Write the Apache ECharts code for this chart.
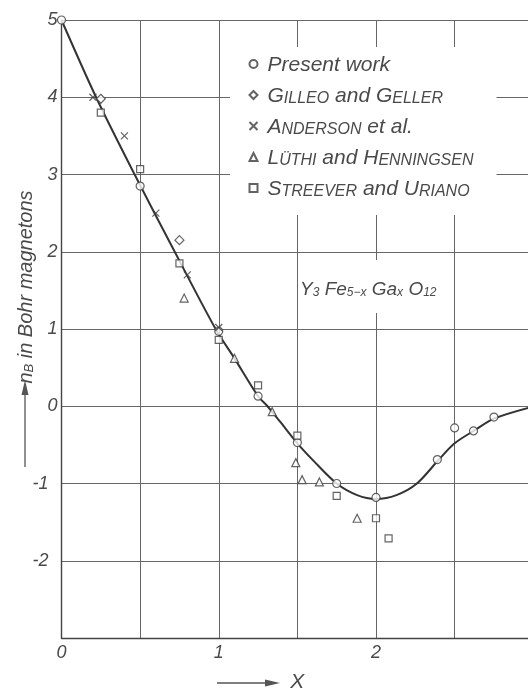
<!DOCTYPE html>
<html><head><meta charset="utf-8">
<script src="https://cdn.jsdelivr.net/npm/echarts@6/dist/echarts.min.js"></script>
<style>html,body{margin:0;padding:0;background:#fff}#c{width:528px;height:689px}</style>
</head><body><div id="c"></div>
<script>
// ---- data ----
const seriesNames = ['Present work', 'GILLEO and GELLER', 'ANDERSON et al.', 'LÜTHI and HENNINGSEN', 'STREEVER and URIANO'];

const presentX = [0, 0.5, 1.0, 1.25, 1.5, 1.75, 2.0, 2.39, 2.5, 2.62, 2.75];
const presentY = [5.0, 2.85, 0.97, 0.13, -0.47, -1.0, -1.18, -0.69, -0.28, -0.32, -0.14];

const gilleoX = [0.25, 0.75];
const gilleoY = [3.98, 2.15];

const andersonX = [0.2, 0.4, 0.6, 0.8, 1.0];
const andersonY = [4.0, 3.5, 2.5, 1.7, 1.02];

const luthiX = [0.78, 1.1, 1.34, 1.49, 1.53, 1.64, 1.88];
const luthiY = [1.4, 0.62, -0.07, -0.73, -0.95, -0.98, -1.45];

const streeverX = [0.25, 0.5, 0.75, 1.0, 1.25, 1.5, 1.75, 2.0, 2.08];
const streeverY = [3.8, 3.07, 1.85, 0.86, 0.27, -0.38, -1.16, -1.45, -1.71];

const curveX = [0, 0.22, 0.465, 0.72, 0.98, 1.1, 1.25, 1.31, 1.39, 1.5, 1.6, 1.75, 1.88, 2.0, 2.13, 2.26, 2.4, 2.5, 2.62, 2.75, 2.97];
const curveY = [5, 4, 3, 2, 1, 0.62, 0.13, 0, -0.2, -0.48, -0.7, -1.0, -1.15, -1.2, -1.15, -1.0, -0.69, -0.48, -0.32, -0.16, -0.02];

const xTickValues = [0, 1, 2, 3];
const xTickLabels = ['0', '1', '2', '3'];
const yTickValues = [-2, -1, 0, 1, 2, 3, 4, 5];
const yTickLabels = ['-2', '-1', '0', '1', '2', '3', '4', '5'];

const xAxisName = 'X';
const yAxisNameMain = 'n';
const yAxisNameSub = 'B';
const yAxisNameRest = ' in Bohr magnetons';
const formulaParts = [['Y', '3'], ['Fe', '5−x'], ['Ga', 'x'], ['O', '12']];

// ---- helpers ----
const pairs = (xs, ys) => xs.map((x, i) => [x, ys[i]]);
const INK = '#3c3c3c';
const TXT = '#4a4a4a';
const FONT = '"Liberation Sans", Arial, sans-serif';

function smallCaps(name) {
  return '{g| }' + name.split(' ').map(w => {
    if (w.length > 1 && w === w.toUpperCase() && /[A-ZÄÖÜ]/.test(w)) {
      return '{c|' + w[0] + '}{s|' + w.slice(1) + '}';
    }
    return '{t|' + w + '}';
  }).join('{t| }');
}

const markerStyle = { color: '#fff', borderColor: INK, borderWidth: 1.2 };
const symbols = ['circle', 'diamond', 'path://M0,0L10,10M10,0L0,10', 'triangle', 'rect'];
const sizes = [8, 9, 7, 8, 7];
const dataSets = [pairs(presentX, presentY), pairs(gilleoX, gilleoY), pairs(andersonX, andersonY), pairs(luthiX, luthiY), pairs(streeverX, streeverY)];

const scatterSeries = seriesNames.map((n, i) => ({
  name: n, type: 'scatter', data: dataSets[i], symbol: symbols[i], symbolSize: sizes[i],
  itemStyle: Object.assign({}, markerStyle), z: 5, emphasis: { disabled: true }
}));

const formulaText = formulaParts.map(p => '{m|' + p[0] + '}{b|' + p[1] + '}').join('{m| }');

const chart = echarts.init(document.getElementById('c'), null, { renderer: 'canvas' });
chart.setOption({
  animation: false,
  backgroundColor: '#fff',
  textStyle: { fontFamily: FONT },
  grid: { left: 61.5, top: 20, bottom: 51, right: -5.25, containLabel: false, outerBoundsMode: 'none' },
  xAxis: {
    type: 'value', min: 0, max: 3, interval: 0.5,
    axisLine: { show: true, onZero: false, lineStyle: { color: '#444', width: 1.4 } },
    axisTick: { show: false },
    splitLine: { show: true, lineStyle: { color: '#666', width: 1 } },
    axisLabel: {
      margin: 6, color: TXT, fontSize: 18, fontStyle: 'italic', fontFamily: FONT,
      showMaxLabel: true, hideOverlap: false,
      formatter: v => { const i = xTickValues.indexOf(v); return i < 0 ? '' : xTickLabels[i]; }
    },
    name: xAxisName, nameLocation: 'middle', nameGap: 34,
    nameTextStyle: { color: TXT, fontSize: 21, fontStyle: 'italic', fontFamily: FONT }
  },
  yAxis: {
    type: 'value', min: -3, max: 5, interval: 1,
    axisLine: { show: true, onZero: false, lineStyle: { color: '#444', width: 1.4 } },
    axisTick: { show: false },
    splitLine: { show: true, lineStyle: { color: '#666', width: 1 } },
    axisLabel: {
      margin: 4, color: TXT, fontSize: 18, fontStyle: 'italic', fontFamily: FONT,
      formatter: v => {
        const i = yTickValues.indexOf(v);
        if (i < 0) return '';
        return v < 0 ? '{n|' + yTickLabels[i] + '}' : yTickLabels[i];
      },
      rich: { n: { padding: [0, 9, 0, 0], color: TXT, fontSize: 18, fontStyle: 'italic', fontFamily: FONT } }
    }
  },
  legend: {
    orient: 'vertical', left: 230, top: 47,
    padding: [8, 23, 15, 18.5], itemGap: 10,
    itemWidth: 8, itemHeight: 8,
    backgroundColor: '#fff',
    data: seriesNames,
    selectedMode: false,
    formatter: n => smallCaps(n),
    textStyle: {
      color: TXT, fontFamily: FONT, fontStyle: 'italic',
      rich: {
        g: { width: 5, fontSize: 10, lineHeight: 24, verticalAlign: 'bottom' },
        t: { fontSize: 21, lineHeight: 24, verticalAlign: 'bottom', fontStyle: 'italic', color: TXT, fontFamily: FONT },
        c: { fontSize: 21, lineHeight: 24, verticalAlign: 'bottom', fontStyle: 'italic', color: TXT, fontFamily: FONT },
        s: { fontSize: 16, lineHeight: 21, verticalAlign: 'bottom', fontStyle: 'italic', color: TXT, fontFamily: FONT }
      }
    }
  },
  series: [
    {
      name: 'curve', type: 'line', data: pairs(curveX, curveY), showSymbol: false, symbol: 'none',
      smooth: 0.3, lineStyle: { color: '#333', width: 2 }, z: 2, silent: true
    }
  ].concat(scatterSeries),
  graphic: [
    { type: 'rect', z: 10, shape: { x: 300, y: 260, width: 146, height: 53 }, style: { fill: '#fff' } },
    {
      type: 'text', z: 11, x: 300, y: 287,
      style: {
        text: formulaText, align: 'left', verticalAlign: 'middle', textAlign: 'left', textVerticalAlign: 'middle',
        fill: TXT,
        rich: {
          m: { fontSize: 19, lineHeight: 24, verticalAlign: 'bottom', fontStyle: 'italic', fill: TXT, fontFamily: FONT },
          b: { fontSize: 12, lineHeight: 10, verticalAlign: 'bottom', fontStyle: 'italic', fill: TXT, fontFamily: FONT }
        }
      }
    },
    {
      type: 'text', z: 11, x: 24, y: 287, rotation: Math.PI / 2,
      style: {
        text: '{m|' + yAxisNameMain + '}{b|' + yAxisNameSub + '}{m|' + yAxisNameRest + '}',
        align: 'center', verticalAlign: 'middle', textAlign: 'center', textVerticalAlign: 'middle',
        fill: TXT,
        rich: {
          m: { fontSize: 20, lineHeight: 24, verticalAlign: 'bottom', fontStyle: 'italic', fill: TXT, fontFamily: FONT },
          b: { fontSize: 13, lineHeight: 11, verticalAlign: 'bottom', fontStyle: 'italic', fill: TXT, fontFamily: FONT }
        }
      }
    },
    { type: 'line', z: 11, shape: { x1: 25, y1: 467, x2: 25, y2: 392 }, style: { stroke: '#555', lineWidth: 1.3 } },
    { type: 'polygon', z: 11, shape: { points: [[25, 380], [21.5, 395], [28.5, 395]] }, style: { fill: '#555' } },
    { type: 'line', z: 11, shape: { x1: 217, y1: 683, x2: 268, y2: 683 }, style: { stroke: '#555', lineWidth: 1.3 } },
    { type: 'polygon', z: 11, shape: { points: [[280, 683], [265, 679.5], [265, 686.5]] }, style: { fill: '#555' } }
  ]
});
</script>
</body></html>
